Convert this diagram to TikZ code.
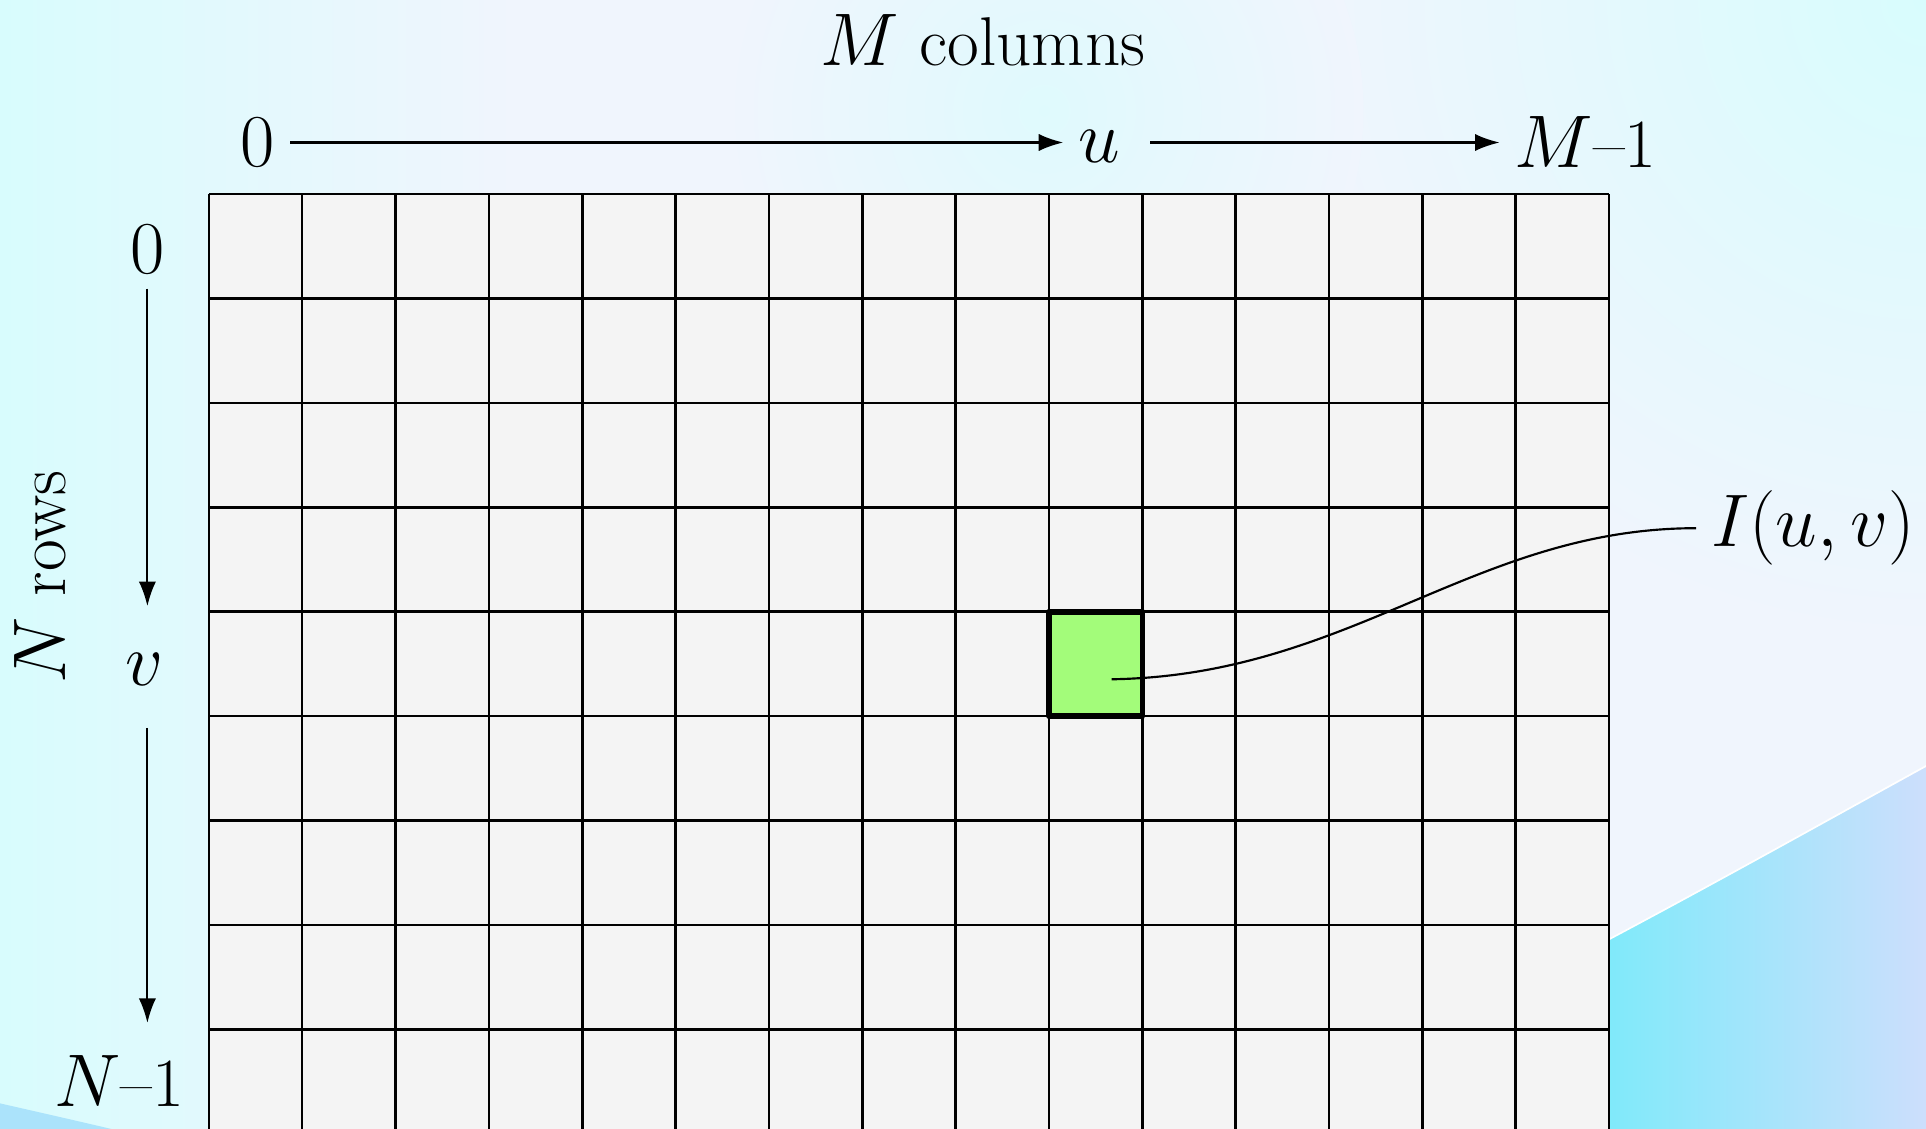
\documentclass[tikz,border=0pt]{standalone}
\usetikzlibrary{arrows.meta}
\definecolor{bgcyan}{RGB}{216,252,253}
\definecolor{bglav}{RGB}{240,245,253}
\definecolor{swooshl}{RGB}{125,234,250}
\definecolor{swooshr}{RGB}{208,222,252}
\definecolor{cellgray}{RGB}{244,244,244}
\definecolor{pixgreen}{RGB}{163,252,122}
\begin{document}
\begin{tikzpicture}[x=0.1mm, y=-0.1mm, line join=round, >={Latex[length=2mm,width=1.4mm]}, font=\fontsize{16}{19}\selectfont]
	\tikzset{gridline/.style={black, line width=0.6pt}, axis/.style={->, line width=0.5pt}}
	\useasboundingbox (0,0) rectangle (1568,919);
	\clip (0,0) rectangle (1568,919);
	% background
	\fill[bglav] (0,0) rectangle (1568,919);
	\shade[left color=bgcyan, right color=bglav] (0,0) rectangle (420,919);
	\shade[inner color=bgcyan, outer color=bglav] (1568,0) circle (520);
	\shade[inner color=bgcyan!70!bglav, outer color=bglav] (850,90) circle (260);
	\fill[swooshl!45!swooshr] (-10,896) .. controls (100,921) .. (300,970) -- (-10,970) -- cycle;
	\shade[left color=swooshl, right color=swooshr, draw=white] (1300,770) .. controls (1400,717) and (1480,672) .. (1580,617) -- (1580,930) -- (1300,930) -- cycle;
	% the image grid
	\fill[cellgray] (170,158) rectangle (1310,923);
	\foreach \c in {0,...,15}
	\draw[gridline] (170+76*\c,158) -- (170+76*\c,923);
	\foreach \r in {0,...,9}
	\draw[gridline] (170,158+85*\r) -- (1310,158+85*\r);
	\draw[fill=pixgreen, line width=1.3pt] (854,498) rectangle (930,583);
	\coordinate (pix) at (905,553);
	% labels
	\node (title) at (800,33) {$M$ columns};
	\node (zero u) at (210,116) {$0$};
	\node (u) at (895,119) {$u$};
	\node (M1) at (1291,116) {$M$--1};
	\node (zero v) at (120,203) {$0$};
	\node (v) at (118,545) {$v$};
	\node (N1) at (97,880) {$N$--1};
	\node[rotate=90] (N rows) at (33,470) {$N$ rows};
	\node (Iuv) at (1476,430) {$I(u,v)$};
	% axes
	\draw[axis] (zero u) -- (zero u -| u.west);
	\draw[axis, shorten <=1.2mm] (u.east |- zero u) -- (M1);
	\draw[axis, shorten >=2.6mm] (zero v) -- (zero v |- v.north);
	\draw[axis, shorten <=2.2mm, shorten >=1.4mm] (v.south -| zero v) -- (N1.north -| zero v);
	\draw[line width=0.5pt] (pix) .. controls (1100,550) and (1200,430) .. (Iuv.west);
\end{tikzpicture}
\end{document}
